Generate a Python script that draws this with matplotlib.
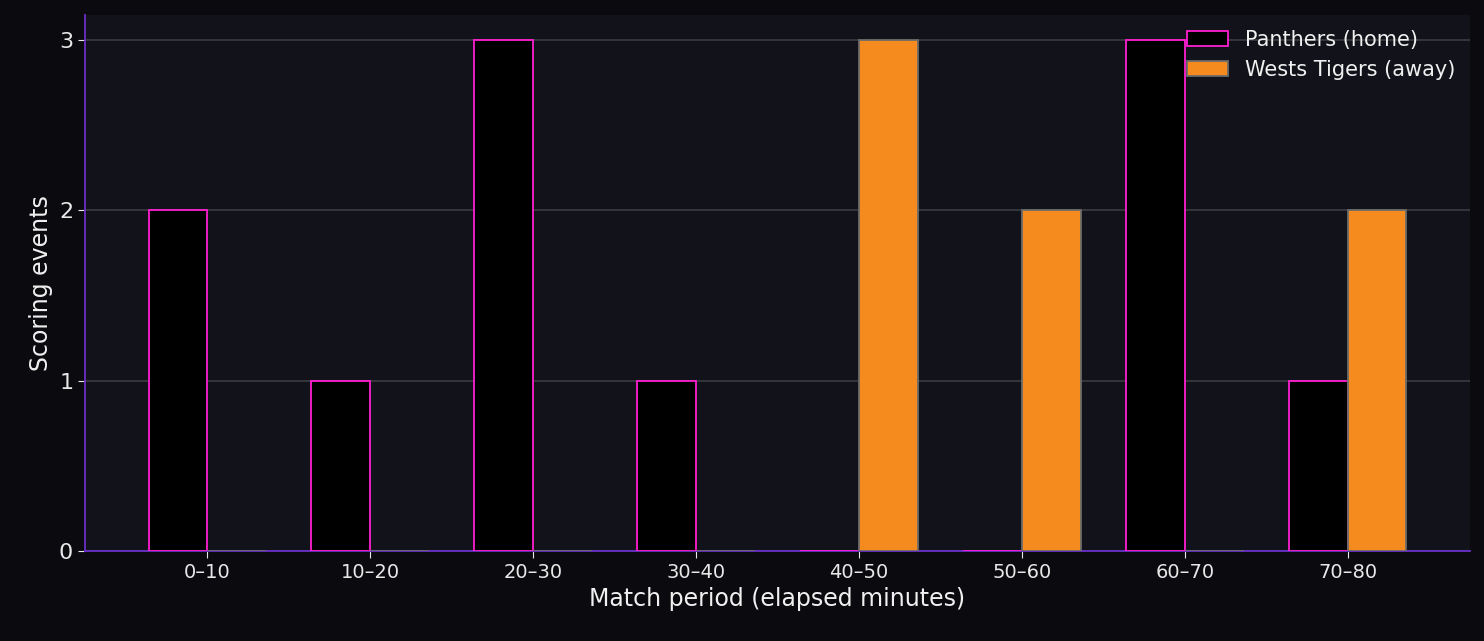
import numpy as np
import matplotlib.pyplot as plt

periods = ['0–10', '10–20', '20–30', '30–40', '40–50', '50–60', '60–70', '70–80']
panthers = [2, 1, 3, 1, 0, 0, 3, 1]
tigers = [0, 0, 0, 0, 3, 2, 0, 2]

fig = plt.figure(figsize=(14.84, 6.41), dpi=100, facecolor='#0b0b0f')
ax = fig.add_axes([85/1484, 90/641, 1385/1484, 536/641])
ax.set_facecolor('#12131a')

x = np.arange(len(periods))
w = 0.36
ax.bar(x - 0.18, panthers, w, color='black', edgecolor='#ff1fd0', linewidth=1.3,
       label='Panthers (home)', zorder=3)
ax.bar(x + 0.18, tigers, w, color='#f58a1f', edgecolor='#6b6b6b', linewidth=1.3,
       label='Wests Tigers (away)', zorder=3)

ax.set_xlim(-0.75, 7.75)
ax.set_ylim(0, 3.147)
ax.set_xticks(x)
ax.set_xticklabels(periods)
ax.set_yticks([0, 1, 2, 3])
ax.grid(axis='y', color='#3c3c40', linewidth=1.2, zorder=0)
for s in ['top', 'right']:
    ax.spines[s].set_visible(False)
for s in ['left', 'bottom']:
    ax.spines[s].set_color('#6a2fc8')
    ax.spines[s].set_linewidth(1.3)
ax.tick_params(axis='x', colors='#e8e8e8', labelsize=14, length=5)
ax.tick_params(axis='y', colors='#e8e8e8', labelsize=16, length=5)
ax.set_xlabel('Match period (elapsed minutes)', color='#f0f0f0', fontsize=17)
ax.set_ylabel('Scoring events', color='#f0f0f0', fontsize=17)

leg = ax.legend(loc='upper right', frameon=False, fontsize=15, labelcolor='#f0f0f0',
                borderaxespad=0.3)

fig.savefig('out.png', dpi=100, facecolor=fig.get_facecolor())
